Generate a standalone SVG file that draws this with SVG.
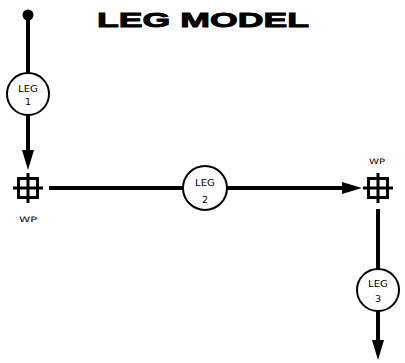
<svg xmlns="http://www.w3.org/2000/svg" width="405" height="363" viewBox="0 0 405 363">
<style>
.ln{stroke:#000;stroke-width:4;fill:none}
.leg{fill:#fff;stroke:#000;stroke-width:2}
.wp{fill:none;stroke:#000;stroke-width:3}
.lbl{font-family:"DejaVu Sans","Liberation Sans",sans-serif;font-size:9.5px;fill:#000;text-anchor:middle}
.wpl{font-family:"DejaVu Sans","Liberation Sans",sans-serif;font-size:7.5px;fill:#000;text-anchor:middle}
.title{font-family:"Liberation Sans",Arial,sans-serif;font-weight:bold;font-size:21px;fill:#000;stroke:#000;stroke-width:0.9}
</style>
<defs>
<marker id="ah" viewBox="0 0 20 12" markerWidth="20" markerHeight="12" refX="8" refY="6" orient="auto" markerUnits="userSpaceOnUse">
<path d="M0,0 L20,6 L0,12 z" fill="#000"/>
</marker>
</defs>
<text class="title" x="97" y="27" textLength="212" lengthAdjust="spacingAndGlyphs">LEG MODEL</text>
<g id="connectors">
<circle cx="28" cy="15" r="5.5" fill="#000"/>
<line class="ln" x1="28" y1="15" x2="28" y2="73"/>
<line class="ln" x1="28" y1="115" x2="28" y2="158" marker-end="url(#ah)"/>
<line class="ln" x1="49" y1="188" x2="183" y2="188"/>
<line class="ln" x1="227" y1="188" x2="350" y2="188" marker-end="url(#ah)"/>
<line class="ln" x1="378" y1="209" x2="378" y2="269"/>
<line class="ln" x1="378" y1="311" x2="378" y2="348" marker-end="url(#ah)"/>
</g>
<g id="leg1">
<circle class="leg" cx="28" cy="94" r="21"/>
<text class="lbl" x="28" y="92" textLength="20" lengthAdjust="spacingAndGlyphs">LEG</text>
<text class="lbl" x="28" y="105">1</text>
</g>
<g id="wp1">
<rect class="wp" x="18.5" y="178.5" width="19" height="19"/>
<line class="wp" x1="28" y1="173" x2="28" y2="203"/>
<line class="wp" x1="13" y1="188" x2="43" y2="188"/>
<text class="wpl" x="28" y="222" textLength="18" lengthAdjust="spacingAndGlyphs">WP</text>
</g>
<g id="leg2">
<circle class="leg" cx="205" cy="188" r="22"/>
<text class="lbl" x="205" y="186" textLength="20" lengthAdjust="spacingAndGlyphs">LEG</text>
<text class="lbl" x="205" y="203">2</text>
</g>
<g id="wp2">
<rect class="wp" x="368.5" y="178.5" width="19" height="19"/>
<line class="wp" x1="378" y1="173" x2="378" y2="203"/>
<line class="wp" x1="363" y1="188" x2="393" y2="188"/>
<text class="wpl" x="377" y="164" textLength="16" lengthAdjust="spacingAndGlyphs">WP</text>
</g>
<g id="leg3">
<circle class="leg" cx="378" cy="290" r="21"/>
<text class="lbl" x="378" y="287" textLength="20" lengthAdjust="spacingAndGlyphs">LEG</text>
<text class="lbl" x="378" y="302">3</text>
</g>
</svg>
